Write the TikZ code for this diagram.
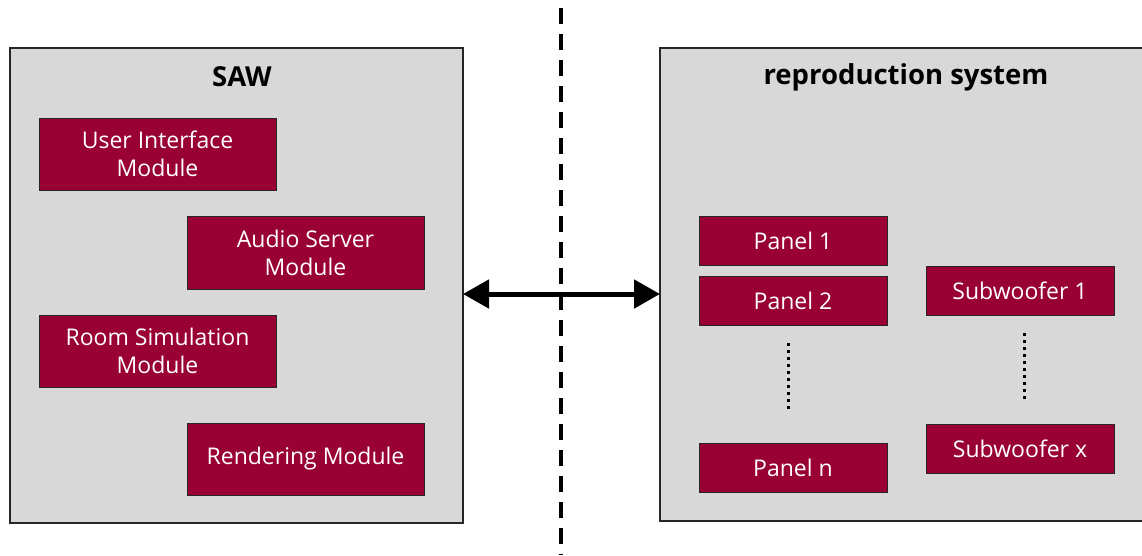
\documentclass[tikz,border=0pt]{standalone}
\usepackage{fontspec}
\setmainfont{Open Sans}
\usetikzlibrary{arrows.meta}
\definecolor{boxred}{HTML}{990033}
\definecolor{panelgray}{HTML}{D8D8D8}
\tikzset{
  x=1pt, y=-1pt,
  group/.style={draw=black!85, line width=1.2pt, fill=panelgray},
  module/.style={draw=black!85, line width=1pt, fill=boxred, text=white, align=center, font=\fontsize{23}{28}\selectfont, inner sep=0pt},
  title/.style={font=\fontsize{27.5}{32}\selectfont\bfseries, text=black},
  dotline/.style={line width=3pt, dash pattern=on 3pt off 4pt},
}
\begin{document}
\begin{tikzpicture}
\useasboundingbox (0,0) rectangle (1142,555);
% groups
\draw[group] (10,48) rectangle (463,523);
\draw[group] (660,48) rectangle (1150,521);
\node[title] (saw) at (242,77) {SAW};
\node[title] (rep) at (906,77) {reproduction system};
% separator
\coordinate (septop) at (561,8);
\coordinate (sepbot) at (561,555);
\draw[line width=3.5pt, dash pattern=on 16pt off 10pt] (septop) -- (sepbot);
% modules
\node[module, minimum width=237pt, minimum height=72pt] (ui) at (157.5,154) {User Interface\\Module};
\node[module, minimum width=237pt, minimum height=73pt] (as) at (305.5,252.5) {Audio Server\\Module};
\node[module, minimum width=237pt, minimum height=72pt] (rs) at (157.5,351) {Room Simulation\\Module};
\node[module, minimum width=237pt, minimum height=72pt] (rm) at (305.5,459) {Rendering Module};
% panels
\node[module, minimum width=188pt, minimum height=49pt] (p1) at (793,240.5) {Panel 1};
\node[module, minimum width=188pt, minimum height=49pt] (p2) at (793,300.5) {Panel 2};
\node[module, minimum width=188pt, minimum height=49pt] (pn) at (793,467.5) {Panel n};
\node[module, minimum width=188pt, minimum height=49pt] (s1) at (1020,290.5) {Subwoofer 1};
\node[module, minimum width=188pt, minimum height=49pt] (sx) at (1020,448.5) {Subwoofer x};
% dotted
\coordinate (pd1) at (788,343);
\coordinate (pd2) at (788,410);
\coordinate (sd1) at (1024,333);
\coordinate (sd2) at (1024,401);
\draw[dotline] (pd1) -- (pd2);
\draw[dotline] (sd1) -- (sd2);
% arrow
\coordinate (al) at (463,294);
\coordinate (ar) at (660,294);
\draw[line width=5pt, {Triangle[length=26pt,width=28pt]}-{Triangle[length=26pt,width=28pt]}] (al) -- (ar);
\end{tikzpicture}
\end{document}
